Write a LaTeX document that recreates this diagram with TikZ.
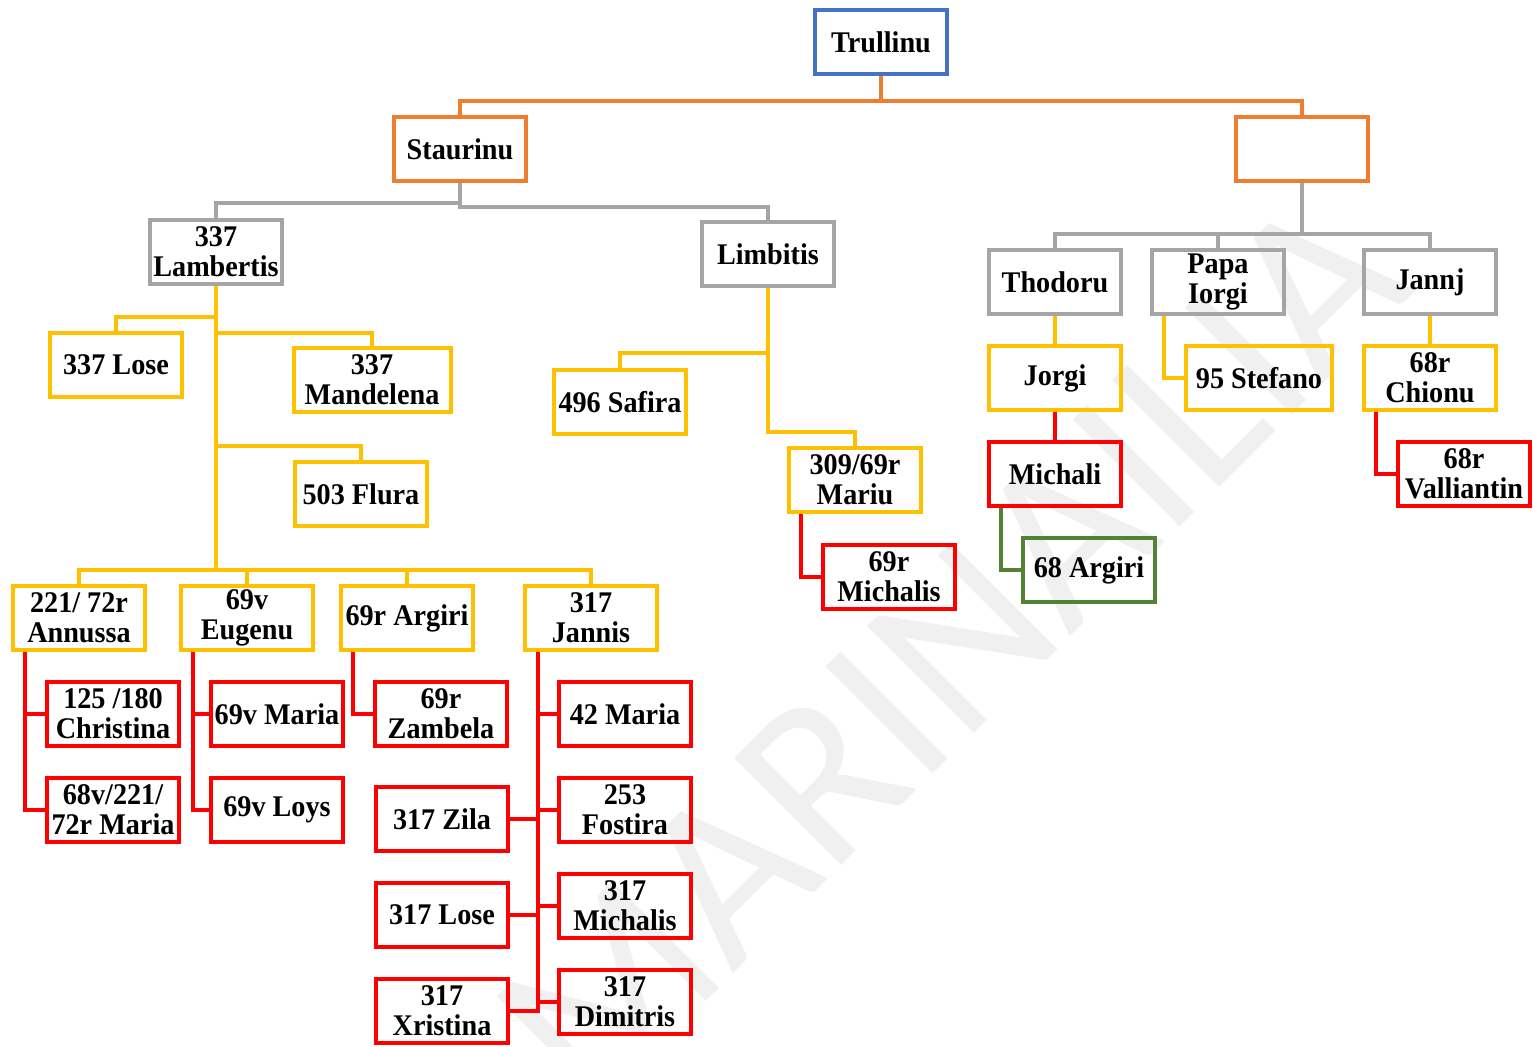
\documentclass[tikz,border=0pt]{standalone}
\usepackage{fontspec}
\setmainfont{Liberation Serif}[FakeStretch=0.94]
\newfontfamily\wmfont{Carlito}
\usetikzlibrary{calc}
\definecolor{trBlue}{HTML}{4472C4}
\definecolor{trOrange}{HTML}{ED7D31}
\definecolor{trGrey}{HTML}{A5A5A5}
\definecolor{trYellow}{HTML}{FFC000}
\definecolor{trRed}{HTML}{FF0000}
\definecolor{trGreen}{HTML}{548235}
\tikzset{
  person/.style   = {draw, line width=2pt, minimum width=66pt, minimum height=32pt,
                     inner sep=1pt, align=center, font=\bfseries\fontsize{15}{15}\selectfont},
  gen0/.style     = {person, draw=trBlue},
  gen1/.style     = {person, draw=trOrange},
  gen2/.style     = {person, draw=trGrey},
  gen3/.style     = {person, draw=trYellow},
  gen4/.style     = {person, draw=trRed},
  gen5/.style     = {person, draw=trGreen},
  link/.style     = {line width=1.6pt},
  orglink/.style  = {link, trOrange},
  grylink/.style  = {link, trGrey},
  yellink/.style  = {link, trYellow},
  redlink/.style  = {link, trRed},
  grnlink/.style  = {link, trGreen},
  watermark/.style= {text=black!6, font=\wmfont\fontsize{118}{118}\selectfont, rotate=45},
}

\begin{document}
\begin{tikzpicture}[x=0.5pt, y=-0.5pt]
  \useasboundingbox (0,0) rectangle (1533,1046);

  \node[watermark] (wm) at (950,650) {MARINAILIA};

  % top of the tree
  \node[gen0] (trul)  at (881,42)  {Trullinu};
  \node[gen1] (staur) at (460,149) {Staurinu};
  \node[gen1] (blank) at (1302,149) {};

  \node[gen2] (lamb)  at (216,252)  {337\\Lambertis};
  \node[gen2] (limb)  at (768,254)  {Limbitis};
  \node[gen2] (thod)  at (1055,282) {Thodoru};
  \node[gen2] (papa)  at (1218,282) {Papa\\Iorgi};
  \node[gen2] (jannj) at (1430,282) {Jannj};

  % children of Lambertis
  \node[gen3] (lose)  at (116,365) {337 Lose};
  \node[gen3, minimum width=78.5pt] (mand) at (372,380) {337\\Mandelena};
  \node[gen3] (flura) at (361,494) {503 Flura};
  \node[gen3] (ann)   at (79,618)  {221/ 72r\\Annussa};
  \node[gen3] (eug)   at (247,618) {69v\\Eugenu};
  \node[gen3] (arg)   at (407,618) {69r Argiri};
  \node[gen3] (jan)   at (591,618) {317\\Jannis};

  % children of Limbitis
  \node[gen3] (safira) at (620,402) {496 Safira};
  \node[gen3] (mariu)  at (855,480) {309/69r\\Mariu};
  \node[gen4] (mmich)  at (889,577) {69r\\Michalis};

  % right branch
  \node[gen3] (jorgi)   at (1055,378) {Jorgi};
  \node[gen4] (michali) at (1055,474) {Michali};
  \node[gen5] (argiri)  at (1089,570) {68 Argiri};
  \node[gen3, minimum width=73pt] (stef) at (1259,378) {95 Stefano};
  \node[gen3] (chionu)  at (1430,378) {68r\\Chionu};
  \node[gen4] (vall)    at (1464,474) {68r\\Valliantin};

  % grandchildren
  \node[gen4] (chr)   at (113,714)  {125 /180\\Christina};
  \node[gen4] (amar)  at (113,810)  {68v/221/\\72r Maria};
  \node[gen4] (emar)  at (277,714)  {69v Maria};
  \node[gen4] (loys)  at (277,810)  {69v Loys};
  \node[gen4] (zamb)  at (441,714)  {69r\\Zambela};
  \node[gen4] (m42)   at (625,714)  {42 Maria};
  \node[gen4] (fost)  at (625,810)  {253\\Fostira};
  \node[gen4] (jmich) at (625,906)  {317\\Michalis};
  \node[gen4] (dimi)  at (625,1002) {317\\Dimitris};
  \node[gen4] (zila)  at (442,819)  {317 Zila};
  \node[gen4] (jlose) at (442,915)  {317 Lose};
  \node[gen4] (xri)   at (442,1011) {317\\Xristina};

  % connectors
  \draw[orglink] (trul.south) -- ++(0,25) -| (staur.north);
  \draw[orglink] (trul.south) -- ++(0,25) -| (blank.north);
  \draw[grylink] (staur.south) -- ++(0,20) -| (lamb.north);
  \draw[grylink] (staur.south) -- ++(0,24) -| (limb.north);
  \foreach \c in {thod,papa,jannj}
    \draw[grylink] (blank.south) -- ++(0,51) -| (\c.north);

  \foreach \c/\d in {lose/31, mand/47, flura/160, ann/284, eug/284, arg/284, jan/284}
    \draw[yellink] (lamb.south) -- ++(0,\d) -| (\c.north);
  \draw[yellink] (limb.south) -- ++(0,65) -| (safira.north);
  \draw[yellink] (limb.south) -- ++(0,144) -| (mariu.north);
  \draw[yellink] (thod.south) -- (jorgi.north);
  \draw[yellink] (jannj.south) -- (chionu.north);
  \draw[yellink] ($(papa.south west)+(14,0)$) |- (stef.west);

  \draw[redlink] (jorgi.south) -- (michali.north);
  \draw[grnlink] ($(michali.south west)+(14,0)$) |- (argiri.west);
  \draw[redlink] ($(chionu.south west)+(14,0)$) |- (vall.west);
  \draw[redlink] ($(mariu.south west)+(14,0)$) |- (mmich.west);

  \foreach \p/\c in {ann/chr, ann/amar, eug/emar, eug/loys, arg/zamb}
    \draw[redlink] ($(\p.south west)+(14,0)$) |- (\c.west);
  \coordinate (jt) at ($(jan.south west)+(15,0)$);
  \foreach \c in {m42,fost,jmich,dimi}
    \draw[redlink] (jt) |- (\c.west);
  \foreach \c in {zila,jlose,xri}
    \draw[redlink] (jt) |- (\c.east);
\end{tikzpicture}
\end{document}
